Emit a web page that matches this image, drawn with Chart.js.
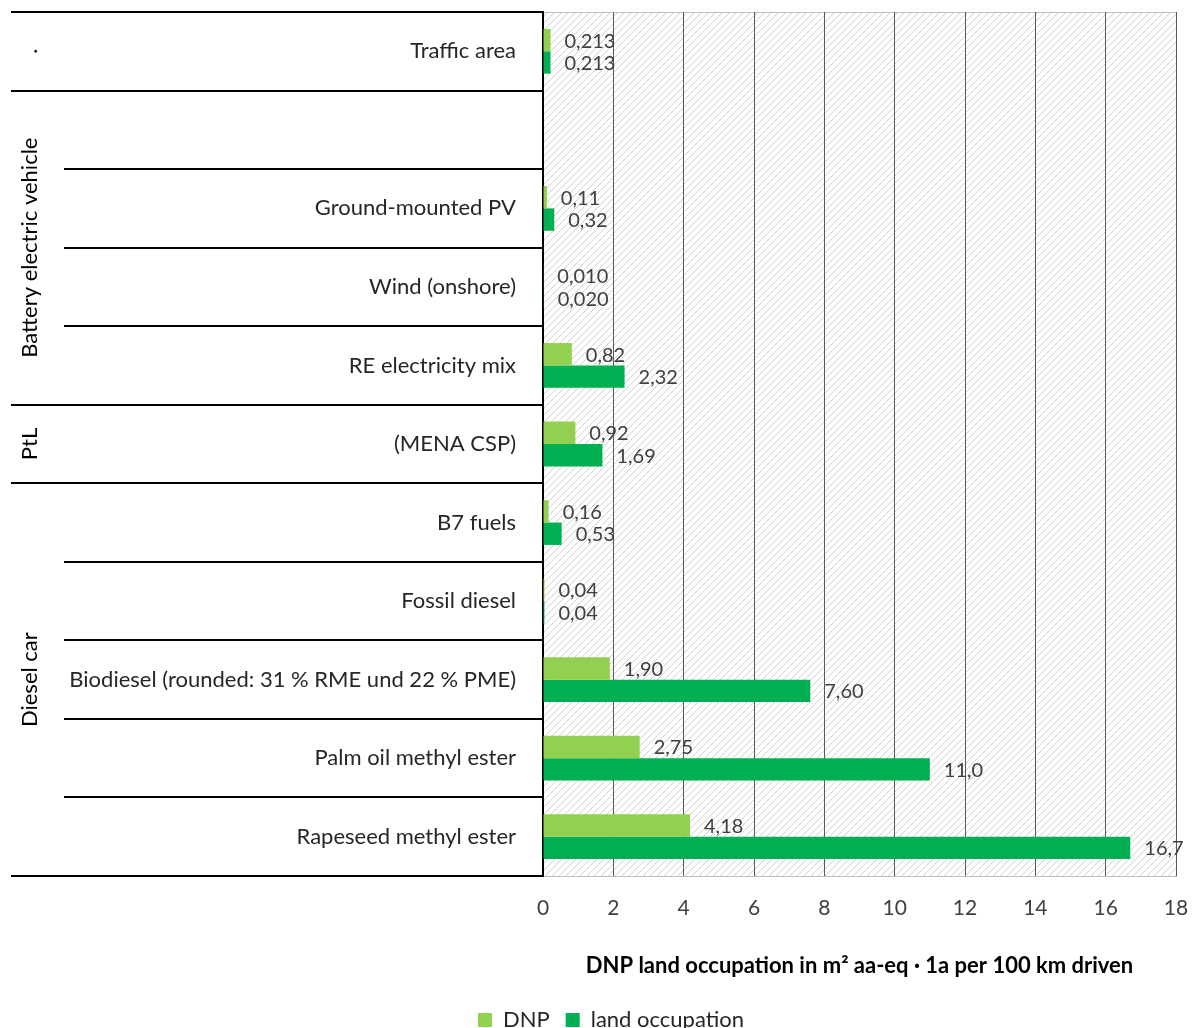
<!DOCTYPE html>
<html>
<head>
<meta charset="utf-8">
<script src="https://cdn.jsdelivr.net/npm/chart.js@4.4.0/dist/chart.umd.min.js"></script>
<style>
  html, body { margin: 0; padding: 0; background: #fff; }
  #caixa { width: 1197px; height: 1028px; }
</style>
</head>
<body>
<div id="caixa"><canvas id="grafico"></canvas></div>
<script>
// categories, top to bottom (second row of the BEV group is empty)
const categorias = ['Traffic area', '', 'Ground-mounted PV', 'Wind (onshore)', 'RE electricity mix', '(MENA CSP)',
    'B7 fuels', 'Fossil diesel', 'Biodiesel (rounded: 31 % RME und 22 % PME)', 'Palm oil methyl ester', 'Rapeseed methyl ester'];
const valores_dnp = [0.213, null, 0.11, 0.010, 0.82, 0.92, 0.16, 0.04, 1.90, 2.75, 4.18];
const valores_ocupacao = [0.213, null, 0.32, 0.020, 2.32, 1.69, 0.53, 0.04, 7.60, 11.0, 16.7];
// decimals shown in the value labels
const casas_dnp = [3, null, 2, 3, 2, 2, 2, 2, 2, 2, 2];
const casas_ocupacao = [3, null, 2, 3, 2, 2, 2, 2, 2, 1, 1];
// row groups on the left
const grupos = ['.', 'Battery electric vehicle', 'PtL', 'Diesel car'];
const grupos_inicio = [0, 1, 5, 6];
const grupos_fim = [0, 4, 5, 10];

const fonte = 'Lato, "Open Sans", sans-serif';
Chart.defaults.font.family = fonte;

function formatar(v, casas) {
    return v.toFixed(casas).replace('.', ',');
}

function criarHachura(ctx) {
    const tile = document.createElement('canvas');
    tile.width = 7;
    tile.height = 7;
    const g = tile.getContext('2d');
    g.strokeStyle = '#cfcfcf';
    g.lineWidth = 1;
    g.beginPath();
    g.moveTo(-1, 8); g.lineTo(8, -1);
    g.moveTo(-1, 1); g.lineTo(1, -1);
    g.moveTo(6, 8); g.lineTo(8, 6);
    g.stroke();
    return ctx.createPattern(tile, 'repeat');
}

const pluginHachura = {
    id: 'hachura',
    afterLayout(chart) {
        // legend sits a bit right of centre in the original
        chart.legend.left += 23;
        chart.legend.right += 23;
    },
    beforeDraw(chart) {
        const {ctx, chartArea: a} = chart;
        ctx.save();
        ctx.fillStyle = criarHachura(ctx);
        ctx.fillRect(a.left, a.top, a.right - a.left, a.bottom - a.top);
        ctx.strokeStyle = '#bfbfbf';
        ctx.lineWidth = 1;
        ctx.beginPath();
        ctx.moveTo(a.left, a.top + 0.5);
        ctx.lineTo(a.right, a.top + 0.5);
        ctx.stroke();
        ctx.restore();
    }
};

const pluginRotulos = {
    id: 'rotulos',
    afterDatasetsDraw(chart) {
        const ctx = chart.ctx;
        const casas = [casas_dnp, casas_ocupacao];
        ctx.save();
        ctx.font = '20px ' + fonte;
        ctx.fillStyle = '#404040';
        ctx.textAlign = 'left';
        ctx.textBaseline = 'middle';
        chart.data.datasets.forEach((ds, d) => {
            chart.getDatasetMeta(d).data.forEach((el, i) => {
                const v = ds.data[i];
                if (v === null) return;
                ctx.fillText(formatar(v, casas[d][i]), el.x + 14, el.y + 1);
            });
        });
        ctx.restore();
    }
};

const pluginTabela = {
    id: 'tabela',
    afterDraw(chart) {
        const {ctx, chartArea: a} = chart;
        const y = chart.scales.y;
        const passo = (a.bottom - a.top) / categorias.length;
        const esq_grupo = 11;
        const esq_linha = 64;
        ctx.save();
        ctx.strokeStyle = '#000';
        ctx.lineWidth = 2;
        ctx.beginPath();
        for (let i = 0; i <= categorias.length; i++) {
            const py = Math.round(y.getPixelForValue(i) - passo / 2);
            const limite = i === 0 || i === categorias.length || grupos_inicio.includes(i);
            ctx.moveTo(limite ? esq_grupo : esq_linha, py);
            ctx.lineTo(a.left, py);
        }
        ctx.stroke();

        ctx.fillStyle = '#000';
        ctx.font = '22px ' + fonte;
        ctx.textAlign = 'center';
        ctx.textBaseline = 'middle';
        grupos.forEach((nome, g) => {
            const topo = y.getPixelForValue(grupos_inicio[g]) - passo / 2;
            const fim = y.getPixelForValue(grupos_fim[g]) + passo / 2;
            ctx.save();
            ctx.translate(30, (topo + fim) / 2);
            ctx.rotate(-Math.PI / 2);
            ctx.fillText(nome, 0, 0);
            ctx.restore();
        });
        ctx.restore();
    }
};

new Chart(document.getElementById('grafico'), {
    type: 'bar',
    data: {
        labels: categorias,
        datasets: [{
            label: 'DNP',
            data: valores_dnp,
            backgroundColor: '#92d050'
        }, {
            label: 'land occupation',
            data: valores_ocupacao,
            backgroundColor: '#00b050'
        }]
    },
    options: {
        indexAxis: 'y',
        responsive: true,
        maintainAspectRatio: false,
        animation: false,
        categoryPercentage: 0.57,
        barPercentage: 1.0,
        layout: {
            padding: { top: 12, right: 21, left: 0, bottom: -13 }
        },
        scales: {
            x: {
                min: 0,
                max: 18,
                ticks: {
                    stepSize: 2,
                    padding: 20,
                    color: '#404040',
                    font: { size: 21 }
                },
                grid: {
                    color: '#595959',
                    drawTicks: false
                },
                border: { color: '#bfbfbf' },
                title: {
                    display: true,
                    text: 'DNP land occupation in m² aa-eq · 1a per 100 km driven',
                    color: '#000',
                    font: { size: 22, weight: 'bold' },
                    padding: { top: 0, bottom: 14 }
                },
                afterFit: (scale) => {
                    scale.height = 117;
                    scale.paddingLeft = 0;
                    scale.paddingRight = 0;
                }
            },
            y: {
                grid: { display: false, drawTicks: false },
                border: { color: '#000', width: 2 },
                ticks: {
                    autoSkip: false,
                    padding: 27,
                    color: '#262626',
                    font: { size: 22 }
                },
                afterFit: (scale) => {
                    scale.width = 543;
                    scale.paddingTop = 0;
                    scale.paddingBottom = 0;
                }
            }
        },
        plugins: {
            legend: {
                position: 'bottom',
                labels: {
                    boxWidth: 14,
                    boxHeight: 14,
                    padding: 16,
                    color: '#262626',
                    font: { size: 22 }
                }
            },
            tooltip: { enabled: false }
        }
    },
    plugins: [pluginHachura, pluginRotulos, pluginTabela]
});
</script>
</body>
</html>
